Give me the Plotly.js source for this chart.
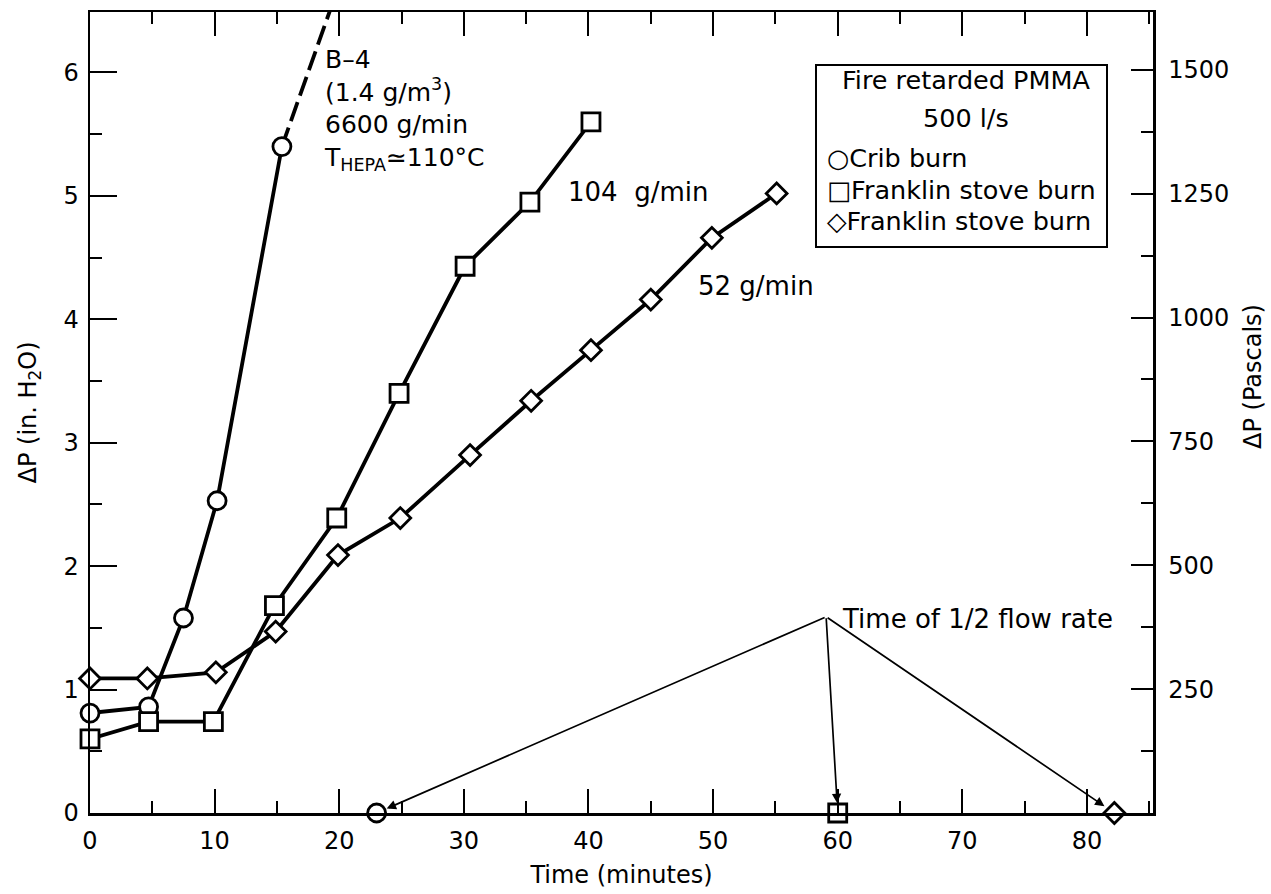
<!DOCTYPE html>
<html>
<head>
<meta charset="utf-8">
<script src="https://cdn.plot.ly/plotly-3.0.1.min.js"></script>
<style>
  html, body { margin: 0; padding: 0; background: #ffffff; }
  #chart { width: 1271px; height: 894px; }
</style>
</head>
<body>
<div id="chart"></div>
<script>
// Pressure drop across the HEPA filter versus burn time (fire retarded PMMA, 500 l/s)

// Crib burn (B-4, 6600 g/min)
const timeCrib = [0, 4.7, 7.5, 10.2, 15.4];
const dpCrib = [0.81, 0.86, 1.58, 2.53, 5.4];
// dashed extrapolation of the crib burn beyond the last reading
const timeCribTrend = [15.4, 19.6];
const dpCribTrend = [5.4, 6.6];

// Franklin stove burn, 104 g/min
const timeStoveFast = [0, 4.7, 9.9, 14.8, 19.8, 24.8, 30.1, 35.3, 40.2];
const dpStoveFast = [0.60, 0.74, 0.74, 1.68, 2.39, 3.40, 4.43, 4.95, 5.60];

// Franklin stove burn, 52 g/min
const timeStoveSlow = [0, 4.6, 10.1, 14.9, 19.9, 24.9, 30.5, 35.4, 40.2, 45.0, 49.9, 55.1];
const dpStoveSlow = [1.09, 1.09, 1.14, 1.47, 2.09, 2.39, 2.90, 3.34, 3.75, 4.16, 4.66, 5.02];

// time at which the flow rate fell to one half (crib, 104 g/min, 52 g/min)
const halfFlowTime = [23, 60, 82.2];
const halfFlowPa = [0, 0, 0];
const halfFlowSymbols = ['circle', 'square', 'diamond'];

// axis ticks
const inchTicks = [0, 1, 2, 3, 4, 5, 6];
const pascalTicks = [250, 500, 750, 1000, 1250, 1500];
const pascalMinorTicks = [125, 375, 625, 875, 1125, 1375];
const timeTicks = [0, 10, 20, 30, 40, 50, 60, 70, 80];

const PA_PER_INH2O = 249.09;
const yTop = 6.49;
const xRight = 85.3;

const FONT = 'DejaVu Sans, Arial, sans-serif';
const INK = '#000000';

const lineStyle = { color: INK, width: 3.8 };
const MARKER_SIZES = { circle: 18, square: 18, diamond: 16 };
const openMarker = (symbol) => ({
  symbol: symbol, size: MARKER_SIZES[symbol], color: '#ffffff', opacity: 1,
  line: { color: INK, width: 2.8 }
});

const traces = [
  {
    x: timeCribTrend, y: dpCribTrend, mode: 'lines',
    line: { color: INK, width: 3.8, dash: '20px,7px' },
    hoverinfo: 'skip', showlegend: false
  },
  {
    x: timeCrib, y: dpCrib, mode: 'lines+markers', name: 'Crib burn',
    line: lineStyle, marker: openMarker('circle'),
    cliponaxis: false, showlegend: false
  },
  {
    x: timeStoveFast, y: dpStoveFast, mode: 'lines+markers', name: 'Franklin stove burn 104 g/min',
    line: lineStyle, marker: openMarker('square'),
    cliponaxis: false, showlegend: false
  },
  {
    x: timeStoveSlow, y: dpStoveSlow, mode: 'lines+markers', name: 'Franklin stove burn 52 g/min',
    line: lineStyle, marker: openMarker('diamond'),
    cliponaxis: false, showlegend: false
  },
  {
    x: halfFlowTime, y: halfFlowPa, yaxis: 'y2', mode: 'markers', name: 'Time of 1/2 flow rate',
    marker: {
      symbol: halfFlowSymbols,
      size: halfFlowSymbols.map(s => MARKER_SIZES[s]),
      color: '#ffffff', opacity: 1,
      line: { color: INK, width: 2.8 }
    },
    cliponaxis: false, showlegend: false
  }
];

// paper-coordinate helpers for the boxed key
const plotL = 90, plotR = 1153, plotT = 12, plotB = 813;
const px = v => (v - plotL) / (plotR - plotL);
const py = v => (plotB - v) / (plotB - plotT);

const arrowTail = { ax: 59.07, ay: 1.59 };
const arrow = (x, standoff) => ({
  x: x, y: 0, xref: 'x', yref: 'y',
  ax: arrowTail.ax, ay: arrowTail.ay, axref: 'x', ayref: 'y',
  text: '', showarrow: true, arrowhead: 2, arrowsize: 1.1,
  arrowwidth: 1.7, arrowcolor: INK, standoff: standoff
});

const textFont = { family: FONT, size: 26, color: INK };
const blockFont = { family: FONT, size: 25, color: INK };
const keyFont = { family: FONT, size: 25.5, color: INK };

const annotations = [
  {
    x: 18.6, y: 6.24, xref: 'x', yref: 'y', xanchor: 'left', yanchor: 'top',
    align: 'left', showarrow: false, font: blockFont,
    text: 'B–4<br>(1.4 g/m<sup>3</sup>)<br>6600 g/min<br>T<sub>HEPA</sub>≃110°C'
  },
  {
    x: 38.2, y: 5.03, xref: 'x', yref: 'y', xanchor: 'left', yanchor: 'middle',
    showarrow: false, font: textFont, text: '104\u00a0 g/min'
  },
  {
    x: 48.6, y: 4.27, xref: 'x', yref: 'y', xanchor: 'left', yanchor: 'middle',
    showarrow: false, font: textFont, text: '52 g/min'
  },
  {
    x: 60.2, y: 1.57, xref: 'x', yref: 'y', xanchor: 'left', yanchor: 'middle',
    showarrow: false, font: textFont, text: 'Time of 1/2 flow rate'
  },
  arrow(halfFlowTime[0], 11),
  arrow(halfFlowTime[1], 10),
  arrow(halfFlowTime[2], 12),
  // boxed key
  {
    x: px(966), y: py(80), xref: 'paper', yref: 'paper', xanchor: 'center', yanchor: 'middle',
    showarrow: false, font: keyFont, text: 'Fire retarded PMMA'
  },
  {
    x: px(966), y: py(118), xref: 'paper', yref: 'paper', xanchor: 'center', yanchor: 'middle',
    showarrow: false, font: keyFont, text: '500 l/s'
  },
  {
    x: px(825), y: py(158), xref: 'paper', yref: 'paper', xanchor: 'left', yanchor: 'middle',
    showarrow: false, font: keyFont, text: '○Crib burn'
  },
  {
    x: px(825), y: py(190), xref: 'paper', yref: 'paper', xanchor: 'left', yanchor: 'middle',
    showarrow: false, font: keyFont, text: '□Franklin stove burn'
  },
  {
    x: px(825), y: py(221), xref: 'paper', yref: 'paper', xanchor: 'left', yanchor: 'middle',
    showarrow: false, font: keyFont, text: '◇Franklin stove burn'
  },
  // right-hand axis title
  {
    x: px(1253), y: py(377), xref: 'paper', yref: 'paper', xanchor: 'center', yanchor: 'middle',
    textangle: -90, showarrow: false, font: { family: FONT, size: 24, color: INK },
    text: 'ΔP (Pascals)'
  }
];

const shapes = [
  {
    type: 'rect', xref: 'paper', yref: 'paper',
    x0: px(816), x1: px(1107), y0: py(247), y1: py(65),
    line: { color: INK, width: 2 }, fillcolor: 'rgba(255,255,255,0)'
  }
];

const tickFont = { family: FONT, size: 24, color: INK };

const layout = {
  width: 1271,
  height: 894,
  margin: { l: plotL, r: 1271 - plotR, t: plotT, b: 894 - plotB, pad: 0 },
  paper_bgcolor: '#ffffff',
  plot_bgcolor: '#ffffff',
  showlegend: false,
  font: { family: FONT, color: INK },
  xaxis: {
    range: [0, xRight],
    tickmode: 'array', tickvals: timeTicks,
    ticks: 'inside', ticklen: 24, tickwidth: 2, tickcolor: INK,
    minor: { dtick: 5, tick0: 0, ticks: 'inside', ticklen: 12, tickwidth: 2, tickcolor: INK },
    showline: true, linewidth: 2.5, linecolor: INK, mirror: 'ticks',
    showgrid: false, zeroline: false,
    tickfont: tickFont, ticklabelstandoff: 5,
    title: { text: 'Time (minutes)', font: { family: FONT, size: 24, color: INK }, standoff: 12 }
  },
  yaxis: {
    range: [0, yTop],
    tickmode: 'array', tickvals: inchTicks,
    ticks: 'inside', ticklen: 27, tickwidth: 2, tickcolor: INK,
    minor: { dtick: 0.5, tick0: 0, ticks: 'inside', ticklen: 12, tickwidth: 2, tickcolor: INK },
    showline: true, linewidth: 2.5, linecolor: INK, mirror: true,
    showgrid: false, zeroline: false,
    tickfont: tickFont, ticklabelstandoff: 4,
    title: { text: 'ΔP (in. H<sub>2</sub>O)', font: { family: FONT, size: 24, color: INK }, standoff: 20 }
  },
  yaxis2: {
    overlaying: 'y', side: 'right', anchor: 'x',
    range: [0, yTop * PA_PER_INH2O],
    tickmode: 'array', tickvals: pascalTicks,
    ticks: 'inside', ticklen: 22, tickwidth: 2, tickcolor: INK,
    minor: { tickmode: 'array', tickvals: pascalMinorTicks, ticks: 'inside', ticklen: 12, tickwidth: 2, tickcolor: INK },
    showline: true, linewidth: 2.5, linecolor: INK,
    showgrid: false, zeroline: false,
    tickfont: tickFont, ticklabelstandoff: 8
  },
  annotations: annotations,
  shapes: shapes
};

Plotly.newPlot('chart', traces, layout, { staticPlot: true, displayModeBar: false });
</script>
</body>
</html>
